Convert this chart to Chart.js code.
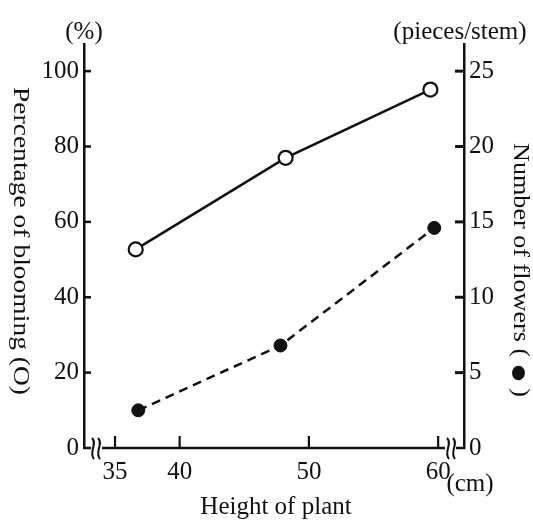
<!DOCTYPE html>
<html>
<head>
<meta charset="utf-8">
<script src="https://cdn.jsdelivr.net/npm/chart.js@4.4.1/dist/chart.umd.min.js"></script>
<style>
  html, body { margin: 0; padding: 0; background: #fff; }
  #wrap { width: 533px; height: 520px; position: relative; }
</style>
</head>
<body>
<div id="wrap"><canvas id="chart"></canvas></div>
<script>
// Plant height (cm) vs. percentage of blooming and number of flowers
const heightBlooming = [36.6, 48.2, 59.4];
const blooming = [52.7, 77.0, 95.1];          // %
const heightFlowers = [36.8, 47.8, 59.7];
const flowers = [2.5, 6.8, 14.6];             // pieces/stem

const xTicks = [35, 40, 50, 60];
const leftTicks = [0, 20, 40, 60, 80, 100];
const rightTicks = [0, 5, 10, 15, 20, 25];

const FONT = '"Liberation Serif", "Times New Roman", serif';
const INK = '#111';

Chart.defaults.font.family = FONT;
Chart.defaults.color = INK;

function pts(xs, ys) {
    return xs.map((x, i) => ({ x, y: ys[i] }));
}

function fixedTicks(list) {
    return scale => { scale.ticks = list.map(v => ({ value: v })); };
}

// inward tick marks, broken x axis and all the axis texts
const axisDecor = {
    id: 'axisDecor',
    afterDraw(chart) {
        const { ctx, chartArea: a, scales } = chart;
        const line = (x1, y1, x2, y2) => {
            ctx.beginPath();
            ctx.moveTo(x1, y1);
            ctx.lineTo(x2, y2);
            ctx.stroke();
        };
        const squiggle = (x, y) => {
            ctx.beginPath();
            ctx.moveTo(x - 1, y - 10);
            ctx.bezierCurveTo(x + 5, y - 4, x - 5, y + 4, x + 1, y + 11);
            ctx.stroke();
        };
        // rotated title made of runs [text, size, shift], stretched to len px
        const vertical = (runs, x, y, len) => {
            ctx.save();
            ctx.translate(x, y);
            ctx.rotate(Math.PI / 2);
            ctx.textAlign = 'left';
            ctx.textBaseline = 'middle';
            const widths = runs.map(([t, size]) => {
                ctx.font = `${size}px ${FONT}`;
                return ctx.measureText(t).width;
            });
            const total = widths.reduce((s, w) => s + w, 0);
            ctx.scale(len / total, 1);
            let pos = -total / 2;
            runs.forEach(([t, size, shift = 0], i) => {
                ctx.font = `${size}px ${FONT}`;
                ctx.fillText(t, pos, 1 + shift);
                pos += widths[i];
            });
            ctx.restore();
        };

        ctx.save();
        ctx.strokeStyle = INK;
        ctx.fillStyle = INK;

        ctx.lineWidth = 2.5;
        leftTicks.filter(v => v > 0).forEach(v => {
            const y = scales.y.getPixelForValue(v);
            line(a.left, y, a.left + 7, y);
        });
        ctx.lineWidth = 3;
        rightTicks.filter(v => v > 0).forEach(v => {
            const y = scales.y1.getPixelForValue(v);
            line(a.right - 9, y, a.right, y);
        });
        ctx.lineWidth = 2.2;
        xTicks.forEach(v => {
            const x = scales.x.getPixelForValue(v);
            line(x, a.bottom, x, a.bottom - 12);
        });

        // x axis with a break near each end
        ctx.lineWidth = 2.5;
        const b1 = a.left + 12, b2 = a.right - 13;
        line(a.left - 1, a.bottom, b1 - 5, a.bottom);
        line(b1 + 6, a.bottom, b2 - 6, a.bottom);
        line(b2 + 5, a.bottom, a.right + 1, a.bottom);
        ctx.lineWidth = 2;
        squiggle(b1 - 3, a.bottom);
        squiggle(b1 + 3, a.bottom);
        squiggle(b2 - 3, a.bottom);
        squiggle(b2 + 3, a.bottom);

        ctx.font = `25px ${FONT}`;
        ctx.textAlign = 'center';
        ctx.textBaseline = 'middle';
        ctx.fillText('(%)', a.left, 32);
        ctx.fillText('(pieces/stem)', a.right - 4, 32);
        ctx.fillText('(cm)', a.right + 6, 484);
        ctx.fillText('Height of plant', 276, 507);

        vertical([['Percentage of blooming (', 23], ['O', 23], [')', 23]], 21, 241, 308);
        vertical([['Number of flowers (', 23], ['\u2009', 23], ['●', 30, 2], ['\u2009', 23], [')', 23]], 521, 270, 254);
        ctx.restore();
    },
};

new Chart(document.getElementById('chart'), {
    type: 'scatter',
    data: {
        datasets: [
            {
                label: 'Percentage of blooming',
                data: pts(heightBlooming, blooming),
                yAxisID: 'y',
                showLine: true,
                borderColor: INK,
                borderWidth: 2.5,
                pointRadius: 7,
                pointBorderWidth: 2.2,
                pointBackgroundColor: '#fff',
                pointBorderColor: INK,
            },
            {
                label: 'Number of flowers',
                data: pts(heightFlowers, flowers),
                yAxisID: 'y1',
                showLine: true,
                borderColor: INK,
                borderWidth: 2.5,
                borderDash: [9, 6],
                pointRadius: 6.5,
                pointBorderWidth: 1,
                pointBackgroundColor: INK,
                pointBorderColor: INK,
            },
        ],
    },
    options: {
        responsive: true,
        maintainAspectRatio: false,
        animation: false,
        layout: { padding: { top: 44, left: 0, right: 0, bottom: 0 } },
        scales: {
            x: {
                type: 'linear',
                min: 32.6,
                max: 62.0,
                afterBuildTicks: fixedTicks(xTicks),
                afterFit: s => { s.height = 72; },
                grid: { display: false, drawTicks: false },
                border: { display: false },
                ticks: { font: { size: 25 }, padding: 9, maxRotation: 0, autoSkip: false },
            },
            y: {
                position: 'left',
                min: 0,
                max: 107.2,
                afterBuildTicks: fixedTicks(leftTicks),
                afterFit: s => { s.width = 84; },
                grid: { display: false, drawTicks: false },
                border: { display: true, color: INK, width: 2.5 },
                ticks: { font: { size: 25 }, padding: 5 },
            },
            y1: {
                position: 'right',
                min: 0,
                max: 26.8,
                afterBuildTicks: fixedTicks(rightTicks),
                afterFit: s => { s.width = 69; },
                grid: { display: false, drawTicks: false },
                border: { display: true, color: INK, width: 2.5 },
                ticks: { font: { size: 25 }, padding: 5 },
            },
        },
        plugins: {
            legend: { display: false },
            tooltip: { enabled: false },
        },
    },
    plugins: [axisDecor],
});
</script>
</body>
</html>
